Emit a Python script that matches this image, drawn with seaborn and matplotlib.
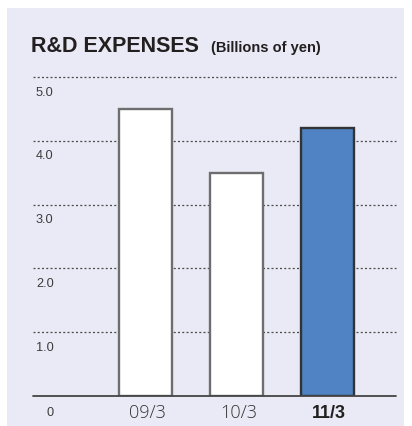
import matplotlib
matplotlib.use("Agg")
import matplotlib.pyplot as plt
import matplotlib.transforms as mtransforms
from matplotlib.patches import Rectangle
import seaborn as sns
import pandas as pd

# Fiscal periods and R&D expenses (billions of yen)
periods = ["09/3", "10/3", "11/3"]
expenses = [4.5, 3.5, 4.2]
y_ticks = [1.0, 2.0, 3.0, 4.0, 5.0]
y_tick_labels = ["1.0", "2.0", "3.0", "4.0", "5.0"]
bar_colors = ["#FFFFFF", "#FFFFFF", "#4F83C3"]
edge_colors = ["#6E6E6E", "#6E6E6E", "#333333"]

sns.set_theme(style="white")
plt.rcParams["font.family"] = ["Liberation Sans", "DejaVu Sans"]

W, H = 412, 426
fig = plt.figure(figsize=(W / 100, H / 100), dpi=100, facecolor="white")

# light panel behind the chart
fig.patches.append(Rectangle((7 / W, 0), (404 - 7) / W, (H - 8) / H,
                             transform=fig.transFigure, facecolor="#E9EAF5",
                             edgecolor="none", zorder=-10))

ax = fig.add_axes([33 / W, (H - 396) / H, (396 - 33) / W, (396 - 77) / H])
ax.set_zorder(1)
ax.set_facecolor("none")

df = pd.DataFrame({"period": periods, "expense": expenses})
sns.barplot(data=df, x="period", y="expense", hue="period", palette=bar_colors,
            legend=False, width=0.58, saturation=1, ax=ax, zorder=3)

for patch, ec in zip(ax.patches, edge_colors):
    patch.set_edgecolor(ec)
    patch.set_linewidth(1.7)

ax.set_xlim(-1.236, 2.753)
ax.set_ylim(0, 5.0)

# dotted grid lines and solid baseline
for v in y_ticks:
    ax.axhline(v, color="#4A4A4A", lw=0.9, ls=(0, (1.6, 1.8)), zorder=1,
               clip_on=False)
ax.axhline(0, color="#444444", lw=1.3, zorder=4, clip_on=False)

for s in ax.spines.values():
    s.set_visible(False)
ax.set_xlabel("")
ax.set_ylabel("")
ax.set_yticks([])
ax.set_xticks([])

narrow = ["Liberation Sans Narrow", "Liberation Sans"]
ytrans = mtransforms.blended_transform_factory(ax.transAxes, ax.transData)

# value labels sit just below each grid line
offset = mtransforms.ScaledTranslation(0, -15.5 / 100, fig.dpi_scale_trans)
for v, lab in zip(y_ticks, y_tick_labels):
    ax.text(3 / 363, v, lab, transform=ytrans + offset,
            ha="left", va="center", fontsize=9.2, color="#3C3C3C", family=narrow)

base_off = mtransforms.ScaledTranslation(0, -17 / 100, fig.dpi_scale_trans)
ax.text(17 / 363, 0, "0", transform=ytrans + base_off,
        ha="center", va="center", fontsize=9.2, color="#3C3C3C", family=narrow)

for i, p in enumerate(periods):
    bold = i == len(periods) - 1
    ax.text(i + 0.02, 0, p, transform=ax.transData + base_off, ha="center", va="center",
            fontsize=13, color="#231F20" if bold else "#333333",
            fontweight="bold" if bold else "light",
            family=["Liberation Sans"] if bold else ["Open Sans", "Liberation Sans"])

# title
fig.text(31 / W, 1 - 51.7 / H, "R&D EXPENSES", ha="left", va="baseline",
         fontsize=15.5, fontweight="bold", color="#231F20")
fig.text(211 / W, 1 - 51.7 / H, "(Billions of yen)", ha="left", va="baseline",
         fontsize=10.5, fontweight="bold", color="#231F20")

fig.savefig("out.png", dpi=100, facecolor="white")
